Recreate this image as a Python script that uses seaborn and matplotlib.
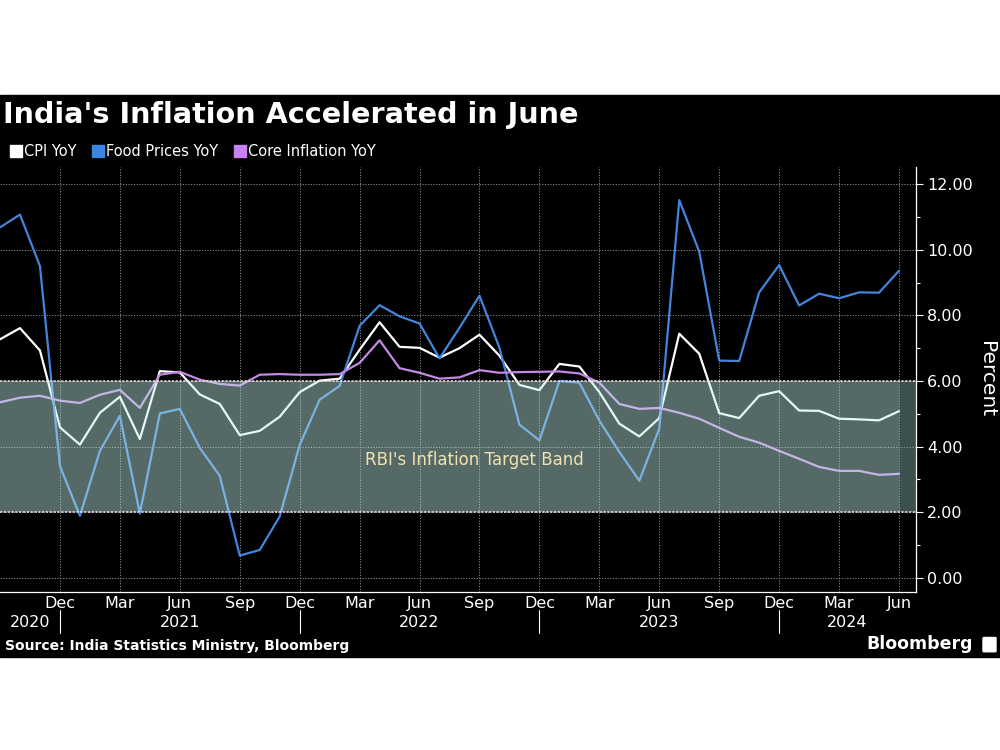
import numpy as np
import pandas as pd
import matplotlib
matplotlib.use("Agg")
import matplotlib.pyplot as plt
from matplotlib.lines import Line2D
from matplotlib.patches import Rectangle, FancyBboxPatch
import seaborn as sns

# Monthly data, Sep 2020 .. Jun 2024
months = pd.date_range("2020-09-01", "2024-06-01", freq="MS")
cpi_yoy = [7.27, 7.61, 6.93, 4.59, 4.06, 5.03, 5.52, 4.23, 6.30, 6.26,
           5.59, 5.30, 4.35, 4.48, 4.91, 5.66, 6.01, 6.07, 6.95, 7.79,
           7.04, 7.01, 6.71, 7.00, 7.41, 6.77, 5.88, 5.72, 6.52, 6.44,
           5.66, 4.70, 4.31, 4.87, 7.44, 6.83, 5.02, 4.87, 5.55, 5.69,
           5.10, 5.09, 4.85, 4.83, 4.80, 5.08]
food_yoy = [10.68, 11.07, 9.50, 3.41, 1.89, 3.87, 4.94, 1.96, 5.01, 5.15,
            3.96, 3.11, 0.68, 0.85, 1.87, 4.05, 5.43, 5.85, 7.68, 8.31,
            7.97, 7.75, 6.69, 7.62, 8.60, 7.01, 4.67, 4.19, 6.00, 5.95,
            4.79, 3.84, 2.96, 4.55, 11.51, 9.94, 6.62, 6.61, 8.70, 9.53,
            8.30, 8.66, 8.52, 8.70, 8.69, 9.36]
core_yoy = [5.35, 5.49, 5.55, 5.40, 5.33, 5.58, 5.73, 5.18, 6.19, 6.28,
            6.04, 5.91, 5.86, 6.19, 6.21, 6.19, 6.19, 6.21, 6.55, 7.24,
            6.39, 6.25, 6.07, 6.11, 6.33, 6.25, 6.27, 6.28, 6.29, 6.23,
            5.95, 5.30, 5.15, 5.18, 5.03, 4.85, 4.57, 4.30, 4.12, 3.87,
            3.63, 3.38, 3.26, 3.26, 3.14, 3.17]
series_names = ["CPI YoY", "Food Prices YoY", "Core Inflation YoY"]
band_low, band_high = 2.0, 6.0
band_label = "RBI's Inflation Target Band"
y_ticks = [0, 2, 4, 6, 8, 10, 12]

colors = {"CPI YoY": "#ffffff", "Food Prices YoY": "#4385dc",
          "Core Inflation YoY": "#c588e4"}
legend_colors = ["#ffffff", "#3d86e0", "#c781f2"]

x = np.arange(len(months))
df = pd.DataFrame({"x": x, "CPI YoY": cpi_yoy, "Food Prices YoY": food_yoy,
                   "Core Inflation YoY": core_yoy})
long = df.melt(id_vars="x", var_name="series", value_name="value")

sns.set_theme(style="dark")
plt.rcParams["font.family"] = ["DejaVu Sans"]

fig = plt.figure(figsize=(10, 7.5), dpi=100, facecolor="white")
# black panel behind everything
fig.patches.append(Rectangle((0, 1 - 657 / 750), 1, (657 - 95) / 750,
                             transform=fig.transFigure, color="black", zorder=-10))

ax = fig.add_axes([0.0, 1 - 592 / 750, 0.916, (592 - 167) / 750])
ax.set_facecolor("black")
ax.set_zorder(1)

sns.lineplot(data=long, x="x", y="value", hue="series", palette=colors,
             hue_order=series_names, linewidth=1.6, ax=ax, legend=False, zorder=2)

# target band drawn over the lines (lightens them)
ax.fill_between([x[0], x[-1]], band_low, band_high, color="#c2f0ea",
                alpha=0.44, lw=0, zorder=3)
ax.fill_between([x[-1], 45.85], band_low, band_high, color="#9fd6cf",
                alpha=0.38, lw=0, zorder=3)
for lvl in (band_low, band_high):
    ax.axhline(lvl, color="#f5dde8", ls=(0, (1.5, 1)), lw=1.1, zorder=4)
ax.text(0.518, 3.6, band_label, transform=ax.get_yaxis_transform(),
        ha="center", va="center", color="#f1e2b2", fontsize=12, zorder=5)

ax.set_xlim(0, 45.85)
ax.set_ylim(-0.43, 12.52)

# x axis: quarterly labels, monthly minor ticks
major_idx = [i for i, m in enumerate(months) if m.month in (12, 3, 6, 9) and i > 0]
ax.set_xticks(major_idx)
ax.set_xticklabels([months[i].strftime("%b") for i in major_idx])
ax.set_xticks(x, minor=True)
ax.tick_params(axis="x", which="both", colors="white", direction="out",
               length=3, width=0.8, labelsize=11.5, pad=0)

# year labels and separators
xt = ax.get_xaxis_transform()
dec_idx = [i for i, m in enumerate(months) if m.month == 12]
for d in dec_idx:
    ax.plot([d, d], [-0.043, -0.097], color="white", lw=0.8,
            transform=xt, clip_on=False)
edges = [0] + dec_idx + [45.85]
years = [2020, 2021, 2022, 2023, 2024]
for yr, a, b in zip(years, edges[:-1], edges[1:]):
    ax.text((a + b) / 2, -0.072, str(yr), transform=xt, ha="center",
            va="center", color="white", fontsize=11.5)

# y axis on the right
ax.yaxis.tick_right()
ax.yaxis.set_label_position("right")
ax.set_yticks(y_ticks)
ax.set_yticklabels([f"{v:.2f}" for v in y_ticks])
ax.set_yticks([1, 3, 5, 7, 9, 11], minor=True)
ax.tick_params(axis="y", which="major", colors="white", direction="out",
               length=5, width=0.8, labelsize=11.5, pad=3)
ax.tick_params(axis="y", which="minor", colors="white", direction="out",
               length=3, width=0.8)
ax.set_ylabel("Percent", color="white", fontsize=14.5, rotation=270,
              labelpad=17)
ax.set_xlabel("")

for side in ("left", "top"):
    ax.spines[side].set_visible(False)
for side in ("right", "bottom"):
    ax.spines[side].set_visible(True)
    ax.spines[side].set_color("white")
    ax.spines[side].set_linewidth(0.9)

ax.grid(True, which="major", color="#8a8a8a", ls=(0, (1.2, 1.6)), lw=0.7)
ax.set_axisbelow(True)

# title, legend, footer
fig.text(0.003, 1 - 115 / 750, "India's Inflation Accelerated in June",
         color="white", fontsize=20.6, fontweight="bold", va="center")
handles = [Line2D([], [], ls="", marker="s", markersize=8.5, color=c)
           for c in legend_colors]
fig.legend(handles, series_names, loc="center left", ncol=3,
           bbox_to_anchor=(0.0, 1 - 152 / 750), frameon=False,
           labelcolor="white", fontsize=10.5, handletextpad=0.05,
           columnspacing=1.0, handlelength=1.0, borderaxespad=0.2)
fig.text(0.005, 1 - 646 / 750, "Source: India Statistics Ministry, Bloomberg",
         color="white", fontsize=10, fontweight="bold", va="center")
fig.text(0.973, 1 - 644 / 750, "Bloomberg", color="white", fontsize=12.5,
         fontweight="bold", va="center", ha="right")
fig.patches.append(FancyBboxPatch((0.984, 1 - 651 / 750), 0.011, 0.017,
                                  boxstyle="round,pad=0.001",
                                  transform=fig.transFigure, color="white"))

fig.savefig("out.png", dpi=100, facecolor="white")
